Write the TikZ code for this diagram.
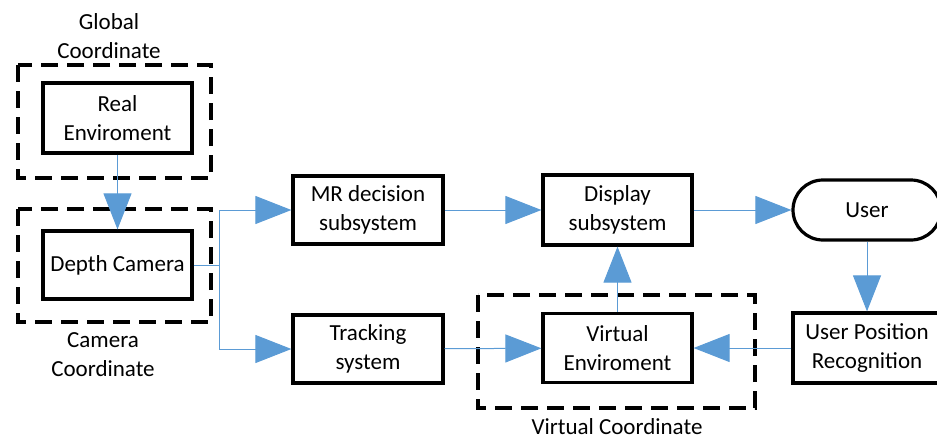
\documentclass[tikz,border=0pt]{standalone}
\usepackage{fontspec}
\setmainfont{Carlito}
\usetikzlibrary{arrows.meta}
\definecolor{flowblue}{HTML}{5B9BD5}
\begin{document}
\begin{tikzpicture}[x=1pt,y=-1pt,
  font=\fontsize{23}{29}\selectfont,
  block/.style={draw=black,line width=3.2pt,align=center,inner sep=0pt},
  frame/.style={draw=black,line width=3.4pt,dash pattern=on 17pt off 9pt},
  label/.style={align=center,inner sep=0pt},
  flow/.style={draw=flowblue,line width=1pt,
    -{Triangle[length=36pt,width=28pt,fill=flowblue]}}]
\useasboundingbox (0,0) rectangle (937,439);
\begin{scope}
\clip (0,0) rectangle (937,439);
% coordinate frames
\draw[frame] (18,65) rectangle (211,178);
\draw[frame] (18,209) rectangle (211,322);
\draw[frame] (478,295) rectangle (755,408);
\node[label] (glob) at (109,36) {Global\\Coordinate};
\node[label] (camlab) at (103,355) {Camera\\Coordinate};
\node[label] (virlab) at (617,427) {Virtual Coordinate};
% blocks
\node[block,minimum width=149pt,minimum height=70pt] (real) at (117.5,118) {Real\\Enviroment};
\node[block,minimum width=149pt,minimum height=68pt] (depth) at (117.5,265) {Depth Camera};
\node[block,minimum width=150pt,minimum height=68pt] (mr) at (368,210) {MR decision\\subsystem};
\node[block,minimum width=150pt,minimum height=68pt] (track) at (368,349) {Tracking\\system};
\node[block,minimum width=149pt,minimum height=70pt] (disp) at (617.5,210) {Display\\subsystem};
\node[block,minimum width=149pt,minimum height=69pt] (virt) at (617.5,348) {Virtual\\Enviroment};
\node[block,rounded corners=30pt,minimum width=148pt,minimum height=60pt] (user) at (867,210) {User};
\node[block,minimum width=148pt,minimum height=70pt] (upr) at (867,348) {User Position\\Recognition};
\coordinate (split) at (219,265);
% connections
\draw[flow] (real) -- (depth);
\draw[flow] (depth.east) -- (split) |- (mr.west);
\draw[flow] (split) |- (track.west);
\draw[flow] (mr) -- (disp);
\draw[flow] (disp) -- (user);
\draw[flow] (user) -- (upr);
\draw[flow] (upr) -- (virt);
\draw[flow] (track) -- (virt);
\draw[flow] (virt) -- (disp);
\end{scope}
\end{tikzpicture}
\end{document}
